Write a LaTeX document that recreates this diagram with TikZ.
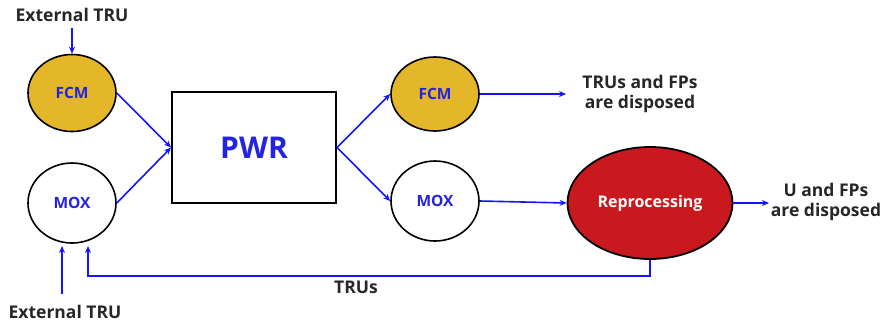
\documentclass[tikz,border=0pt]{standalone}
\usepackage{fontspec}
\setmainfont{Open Sans}
\usetikzlibrary{shapes.geometric,arrows.meta,calc}
\definecolor{flowblue}{RGB}{20,20,255}
\definecolor{labelblue}{RGB}{35,35,225}
\definecolor{fcmgold}{RGB}{228,182,42}
\definecolor{repred}{RGB}{200,25,30}
\begin{document}
\begin{tikzpicture}[x=1pt,y=-1pt,
  vessel/.style={ellipse,draw=black,line width=1.6pt,inner sep=0pt,
    minimum width=88pt,minimum height=77pt,text=labelblue,
    font=\fontsize{15.5}{17}\selectfont\bfseries},
  reactor/.style={rectangle,draw=black,line width=2pt,
    minimum width=164pt,minimum height=111pt,text=labelblue,
    font=\fontsize{30}{34}\selectfont\bfseries},
  note/.style={align=center,text=black!85,
    font=\fontsize{17.5}{20}\selectfont\bfseries},
  flow/.style={draw=flowblue,line width=1.6pt,
    -{Stealth[length=7pt,width=6pt]}}]
\useasboundingbox (0,0) rectangle (882,325);

% fuel elements and the reactor
\node[vessel,fill=fcmgold] (fcmL) at (72,93) {FCM};
\node[vessel,fill=white,minimum height=80pt] (moxL) at (72,203) {MOX};
\node[reactor] (pwr) at (254,147.5) {PWR};
\node[vessel,fill=fcmgold,minimum height=74pt] (fcmR) at (435,94) {FCM};
\node[vessel,fill=white,minimum height=80pt] (moxR) at (435,201) {MOX};
\node[ellipse,draw=black,line width=1.8pt,fill=repred,inner sep=0pt,
  minimum width=165pt,minimum height=112pt,text=white,
  font=\fontsize{16}{18}\selectfont\bfseries] (rep) at (650,203) {Reprocessing};

% free labels
\node[note] (ext1) at (72,15) {External TRU};
\node[note] (ext2) at (65,312) {External TRU};
\node[note] (trufp) at (640,94) {TRUs and FPs\\are disposed};
\node[note] (ufp) at (826,202) {U and FPs\\are disposed};
\node[note] (trus) at (356,287) {TRUs};

\coordinate (fcmOut) at (566,94);
\coordinate (repOut) at (769,203);
\coordinate (ext2Start) at (62,294);
\coordinate (ext2End) at (62,246);
\coordinate (backA) at (650,276);
\coordinate (backB) at (88,276);
\coordinate (backEnd) at (88,246);

% flows
\draw[flow] (72,28) -- (fcmL.north);
\draw[flow] (fcmL.east) -- (pwr.west);
\draw[flow] (moxL.east) -- (pwr.west);
\draw[flow] (pwr.east) -- (fcmR.west);
\draw[flow] (pwr.east) -- (moxR.west);
\draw[flow] (fcmR.east) -- (fcmOut);
\draw[flow] (moxR.east) -- (rep.west);
\draw[flow] (rep.east) -- (repOut);
\draw[flow] (ext2Start) -- (ext2End);
\draw[flow] (rep.south) -- (backA) -- (backB) -- (backEnd);
\end{tikzpicture}
\end{document}
